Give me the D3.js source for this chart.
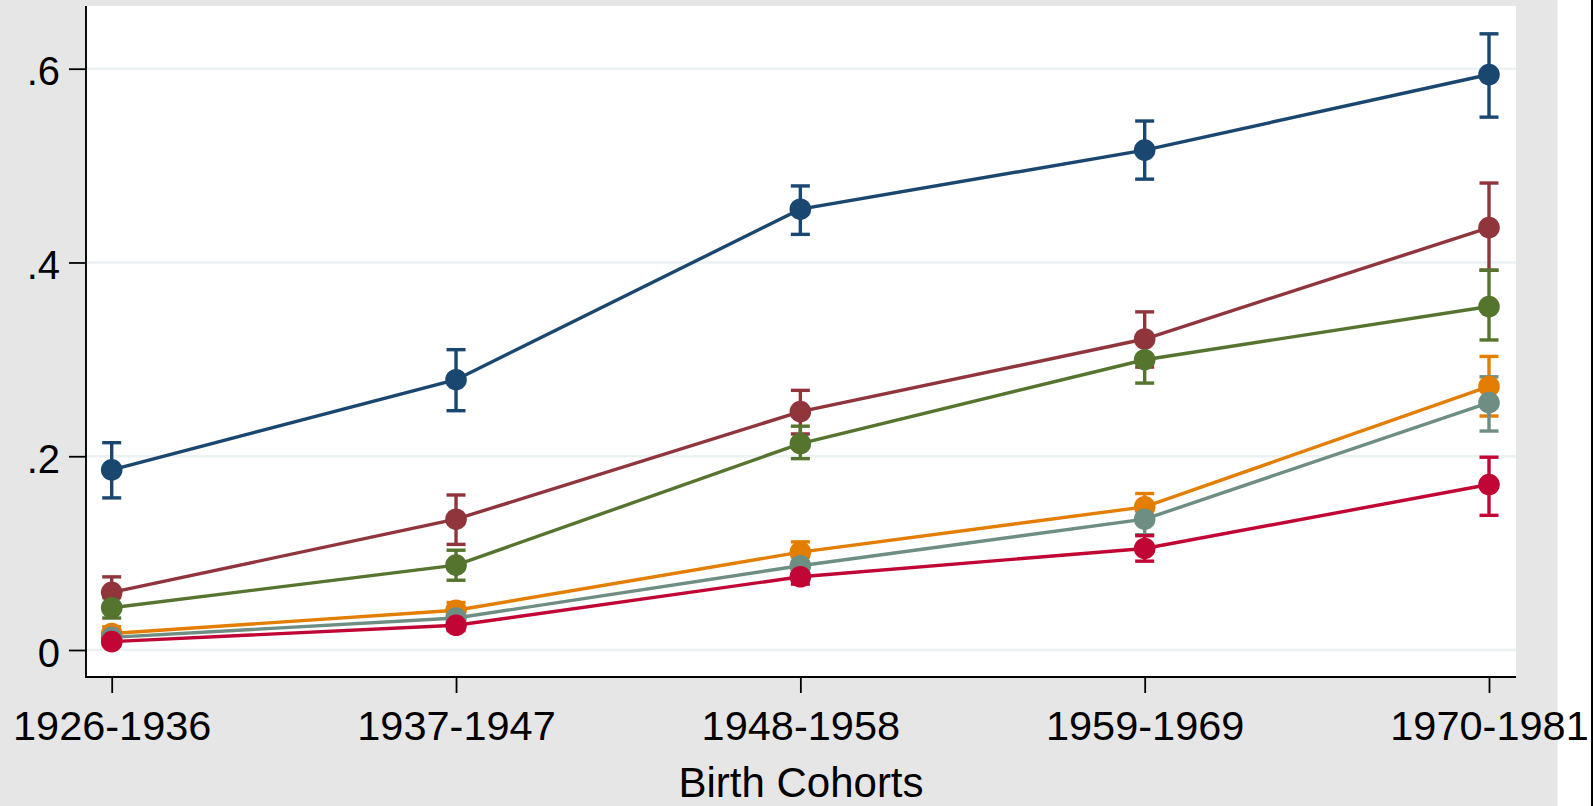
<!DOCTYPE html>
<html>
<head>
<meta charset="utf-8">
<script src="https://cdn.jsdelivr.net/npm/d3@7"></script>
<style>
  html, body { margin: 0; padding: 0; background: #ffffff; }
  svg { display: block; }
  text { font-family: "Liberation Sans", Arial, Helvetica, sans-serif; fill: #000; }
</style>
</head>
<body>
<svg id="chart" width="1593" height="806"></svg>
<script>
// Birth cohorts on the x axis
const cohorts = ["1926-1936", "1937-1947", "1948-1958", "1959-1969", "1970-1981"];
const yTicks = [0, 0.2, 0.4, 0.6];

// Estimated shares per cohort with 95% confidence bounds
const navy      = [0.186, 0.279, 0.455, 0.516, 0.594];
const navyLo    = [0.157, 0.247, 0.429, 0.486, 0.550];
const navyHi    = [0.214, 0.310, 0.479, 0.546, 0.636];

const maroon    = [0.0595, 0.135, 0.246, 0.321, 0.436];
const maroonLo  = [0.044, 0.109, 0.223, 0.292, 0.392];
const maroonHi  = [0.0755, 0.160, 0.268, 0.349, 0.482];

const green     = [0.0436, 0.0876, 0.213, 0.2996, 0.3545];
const greenLo   = [0.033, 0.072, 0.1975, 0.2755, 0.320];
const greenHi   = [0.054, 0.103, 0.231, 0.324, 0.392];

const orange    = [0.017, 0.041, 0.101, 0.1477, 0.272];
const orangeLo  = [0.010, 0.033, 0.091, 0.134, 0.2415];
const orangeHi  = [0.024, 0.049, 0.1116, 0.1615, 0.303];

const teal      = [0.013, 0.033, 0.087, 0.135, 0.2553];
const tealLo    = [0.008, 0.026, 0.078, 0.119, 0.226];
const tealHi    = [0.018, 0.040, 0.096, 0.151, 0.282];

const cranberry   = [0.0086, 0.0255, 0.0756, 0.1048, 0.1708];
const cranberryLo = [0.005, 0.020, 0.068, 0.0917, 0.139];
const cranberryHi = [0.012, 0.031, 0.083, 0.118, 0.199];

const series = [
  { color: "#1a476f", est: navy,      lo: navyLo,      hi: navyHi },
  { color: "#90353b", est: maroon,    lo: maroonLo,    hi: maroonHi },
  { color: "#55752f", est: green,     lo: greenLo,     hi: greenHi },
  { color: "#e37e00", est: orange,    lo: orangeLo,    hi: orangeHi },
  { color: "#6e8e84", est: teal,      lo: tealLo,      hi: tealHi },
  { color: "#c10534", est: cranberry, lo: cranberryLo, hi: cranberryHi }
];

const svg = d3.select("#chart");
const W = 1593, H = 806;

// Outer graph region
svg.append("rect").attr("x", 0).attr("y", 0).attr("width", 1557).attr("height", H).attr("fill", "#e6e6e6");
svg.append("rect").attr("x", 1557).attr("y", 0).attr("width", 1).attr("height", H).attr("fill", "#eaf2f3");
svg.append("rect").attr("x", 1591).attr("y", 0).attr("width", 2).attr("height", H).attr("fill", "#000");

// Plot region
const plot = { left: 86, right: 1516, top: 6, bottom: 677 };
svg.append("rect")
  .attr("x", plot.left).attr("y", plot.top)
  .attr("width", plot.right - plot.left).attr("height", plot.bottom - plot.top)
  .attr("fill", "#ffffff");

const x = d3.scalePoint().domain(cohorts).range([111.7, 1489]);
const y = d3.scaleLinear().domain([0, 0.6]).range([650, 68.7]);

// Horizontal grid lines
svg.append("g").selectAll("line").data(yTicks).join("line")
  .attr("x1", plot.left).attr("x2", plot.right)
  .attr("y1", d => y(d)).attr("y2", d => y(d))
  .attr("stroke", "#eaf2f3").attr("stroke-width", 2.5);

const fmt = d => d === 0 ? "0" : d3.format(".1f")(d).replace(/^0/, "");

// Y axis
const yAxis = svg.append("g").attr("transform", `translate(${plot.left},0)`)
  .call(d3.axisLeft(y).tickValues(yTicks).tickFormat(fmt).tickSize(17).tickSizeOuter(0).tickPadding(9));
yAxis.select(".domain").remove();
yAxis.selectAll(".tick line").attr("stroke", "#000").attr("stroke-width", 1.8);
yAxis.selectAll(".tick text").attr("font-size", 40).attr("dy", "0.4em");

// X axis
const xAxis = svg.append("g").attr("transform", `translate(0,${plot.bottom})`)
  .call(d3.axisBottom(x).tickSize(16).tickSizeOuter(0));
xAxis.select(".domain").remove();
xAxis.selectAll(".tick line").attr("stroke", "#000").attr("stroke-width", 1.8);
xAxis.selectAll(".tick text").attr("font-size", 41.5).attr("y", 63).attr("dy", null);

// Axis lines
svg.append("line").attr("x1", plot.left).attr("x2", plot.left)
  .attr("y1", plot.top).attr("y2", plot.bottom + 0.9)
  .attr("stroke", "#000").attr("stroke-width", 1.9);
svg.append("line").attr("x1", plot.left).attr("x2", plot.right)
  .attr("y1", plot.bottom).attr("y2", plot.bottom)
  .attr("stroke", "#000").attr("stroke-width", 1.9);

// Axis title
svg.append("text").attr("x", (plot.left + plot.right) / 2).attr("y", 797)
  .attr("text-anchor", "middle").attr("font-size", 42).text("Birth Cohorts");

// Confidence intervals (caps) drawn first, under all lines
const capHalf = 9.5;
series.forEach(s => {
  const g = svg.append("g").attr("stroke", s.color).attr("stroke-width", 3.4).attr("fill", "none");
  cohorts.forEach((c, i) => {
    const cx = x(c);
    g.append("line").attr("x1", cx).attr("x2", cx).attr("y1", y(s.lo[i])).attr("y2", y(s.hi[i]));
    g.append("line").attr("x1", cx - capHalf).attr("x2", cx + capHalf).attr("y1", y(s.lo[i])).attr("y2", y(s.lo[i]));
    g.append("line").attr("x1", cx - capHalf).attr("x2", cx + capHalf).attr("y1", y(s.hi[i])).attr("y2", y(s.hi[i]));
  });
});

// Connected estimates
const line = d3.line().x((d, i) => x(cohorts[i])).y(d => y(d));
series.forEach(s => {
  const g = svg.append("g");
  g.append("path").datum(s.est).attr("d", line)
    .attr("fill", "none").attr("stroke", s.color).attr("stroke-width", 3.4);
  g.selectAll("circle").data(s.est).join("circle")
    .attr("cx", (d, i) => x(cohorts[i])).attr("cy", d => y(d)).attr("r", 10.8)
    .attr("fill", s.color);
});
</script>
</body>
</html>
